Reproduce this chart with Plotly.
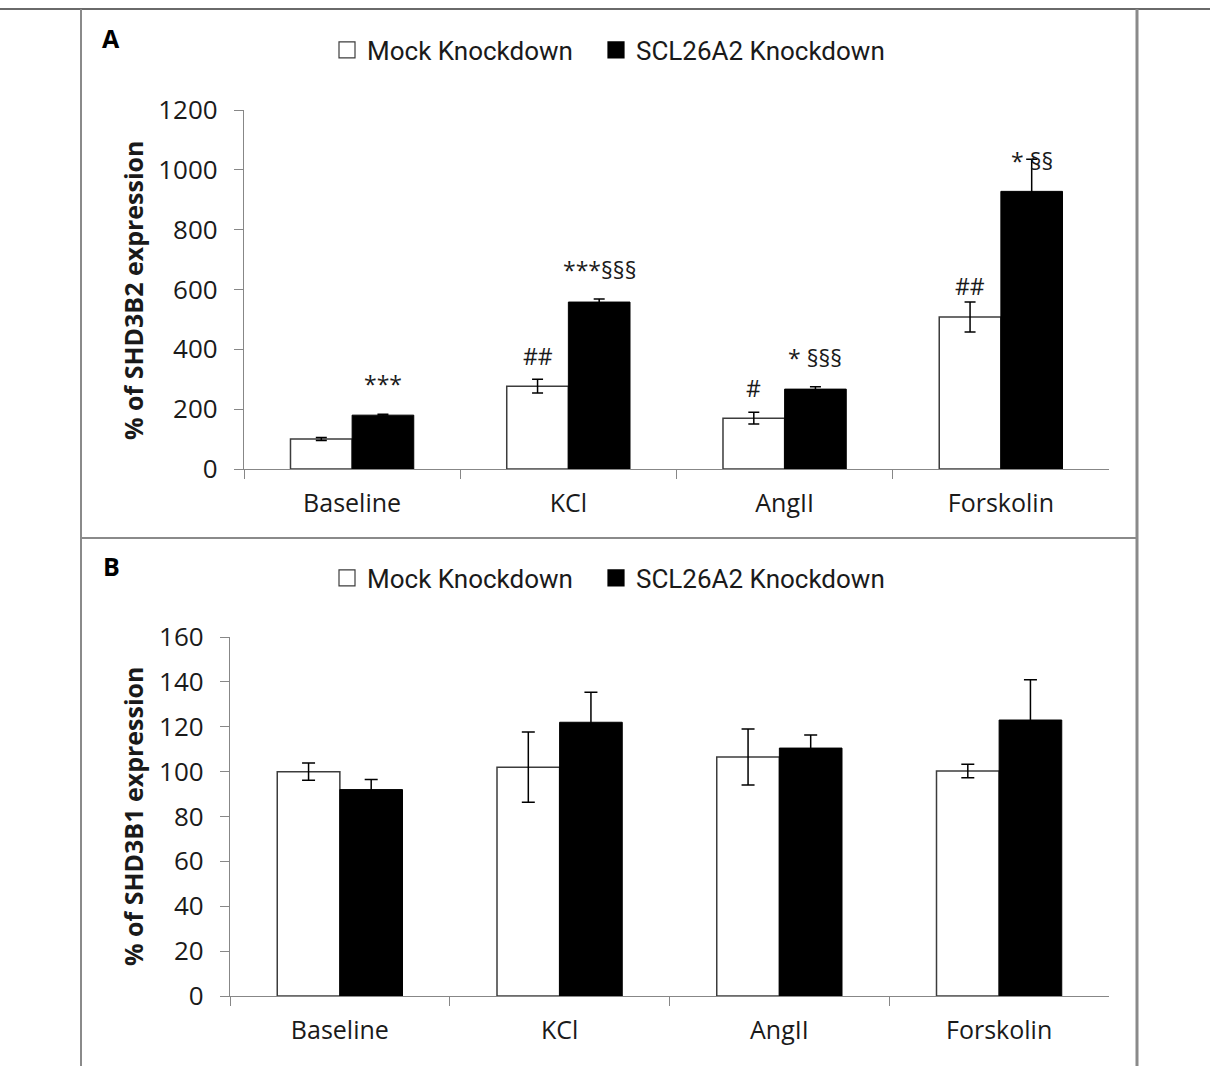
import plotly.graph_objects as go

# ---- data -------------------------------------------------------------
categories = ["Baseline", "KCl", "AngII", "Forskolin"]
series_names = ["Mock Knockdown", "SCL26A2 Knockdown"]

# Panel A: SHD3B2 expression (% of baseline mock)
a_mock = [100, 277, 170, 508]
a_mock_err = [5, 23, 20, 50]
a_kd = [180, 558, 267, 928]
a_kd_err = [3, 10, 8, 107]
a_mock_marks = ["", "##", "#", "##"]
a_kd_marks = ["***", "***§§§", "* §§§", "* §§"]

# Panel B: SHD3B1 expression (% of baseline mock)
b_mock = [100, 102, 106.5, 100.3]
b_mock_err = [3.8, 15.7, 12.5, 3]
b_kd = [92, 122, 110.5, 123]
b_kd_err = [4.5, 13.4, 5.8, 18]

y_ticks_a = [0, 200, 400, 600, 800, 1000, 1200]
y_ticks_b = [0, 20, 40, 60, 80, 100, 120, 140, 160]

# ---- styling ----------------------------------------------------------
W, H = 1210, 1066
BASE_FAMILY = "Open Sans, Noto Sans, sans-serif"
Y_TICK_FONT = dict(family=BASE_FAMILY, size=26, color="#1a1a1a")
X_TICK_FONT = dict(family=BASE_FAMILY, size=25, color="#1a1a1a")
LEGEND_FONT = dict(family="Roboto, sans-serif", size=26, color="#1a1a1a")
AXIS_GRAY = "#878787"
MOCK_STYLE = dict(color="white", line=dict(color="#3c3c3c", width=1.5))
KD_STYLE = dict(color="black", line=dict(color="black", width=1))
BARGAP = 0.43
HALF = (1 - BARGAP) / 2  # one bar width in category units


def px_x(p):
    return p / W


def px_y(p):
    return 1 - p / H


fig = go.Figure()

panels = [
    dict(mock=a_mock, mock_err=a_mock_err, kd=a_kd, kd_err=a_kd_err,
         xa="x", ya="y", legends=("legend", "legend2"), cap=5.5),
    dict(mock=b_mock, mock_err=b_mock_err, kd=b_kd, kd_err=b_kd_err,
         xa="x2", ya="y2", legends=("legend3", "legend4"), cap=6.5),
]

for p in panels:
    for name, vals, errs, style, lg in [
        (series_names[0], p["mock"], p["mock_err"], MOCK_STYLE, p["legends"][0]),
        (series_names[1], p["kd"], p["kd_err"], KD_STYLE, p["legends"][1]),
    ]:
        fig.add_trace(go.Bar(
            x=categories, y=vals, name=name, marker=style,
            error_y=dict(type="data", array=errs, color="black",
                         thickness=1.5, width=p["cap"]),
            xaxis=p["xa"], yaxis=p["ya"], showlegend=False,
        ))
        # legend key: a square swatch in the series style
        fig.add_trace(go.Scatter(
            x=[None], y=[None], mode="markers", name=name,
            marker=dict(symbol="square", size=16, color=style["color"],
                        line=dict(color=style["line"]["color"], width=1.2)),
            xaxis=p["xa"], yaxis=p["ya"], legend=lg, showlegend=True,
            hoverinfo="skip",
        ))

xaxis_common = dict(
    type="category", range=[-0.5, 3.5], tickson="boundaries",
    ticks="outside", ticklen=9, tickcolor=AXIS_GRAY, tickwidth=1.3,
    showline=True, linecolor=AXIS_GRAY, linewidth=1.3,
    showgrid=False, zeroline=False, tickfont=X_TICK_FONT,
    ticklabelstandoff=12, fixedrange=True, automargin=False,
)
yaxis_common = dict(
    ticks="outside", ticklen=9, tickcolor=AXIS_GRAY, tickwidth=1.3,
    showline=True, linecolor=AXIS_GRAY, linewidth=1.3,
    showgrid=False, zeroline=False, tickfont=Y_TICK_FONT,
    ticklabelstandoff=11, fixedrange=True, automargin=False,
)


def legend_box(left_px, center_px):
    return dict(x=px_x(left_px), y=px_y(center_px), xanchor="left", yanchor="middle",
                orientation="h", itemwidth=30, itemsizing="trace", font=LEGEND_FONT,
                bgcolor="rgba(0,0,0,0)", borderwidth=0,
                itemclick=False, itemdoubleclick=False)


fig.update_layout(
    width=W, height=H,
    margin=dict(l=0, r=0, t=0, b=0, pad=0, autoexpand=False),
    paper_bgcolor="white", plot_bgcolor="white",
    barmode="group", bargap=BARGAP, bargroupgap=0,
    xaxis=dict(domain=[px_x(244), px_x(1109)], anchor="y", **xaxis_common),
    yaxis=dict(domain=[px_y(469), px_y(110)], anchor="x", range=[0, 1200],
               tickvals=y_ticks_a, **yaxis_common),
    xaxis2=dict(domain=[px_x(230), px_x(1109)], anchor="y2", **xaxis_common),
    yaxis2=dict(domain=[px_y(996), px_y(637)], anchor="x2", range=[0, 160],
                tickvals=y_ticks_b, **yaxis_common),
    legend=legend_box(327, 50),
    legend2=legend_box(596, 50),
    legend3=legend_box(327, 578),
    legend4=legend_box(596, 578),
    showlegend=True,
)

annotations = []

# axis titles and panel letters
title_font = dict(family=BASE_FAMILY, size=25, color="#1a1a1a")
for text, yc in [("<b>% of SHD3B2 expression</b>", 290), ("<b>% of SHD3B1 expression</b>", 816)]:
    annotations.append(dict(text=text, xref="paper", yref="paper", x=px_x(133), y=px_y(yc),
                            xanchor="center", yanchor="middle", textangle=-90,
                            showarrow=False, font=title_font))
letter_font = dict(family=BASE_FAMILY, size=25, color="black")
for text, yc in [("<b>A</b>", 38), ("<b>B</b>", 566)]:
    annotations.append(dict(text=text, xref="paper", yref="paper", x=px_x(111), y=px_y(yc),
                            xanchor="center", yanchor="middle", showarrow=False, font=letter_font))

# significance marks above panel A bars
mark_font = dict(family=BASE_FAMILY, size=23, color="#1a1a1a")
mock_shift = [0, 5, 6, -2]
kd_shift = [12, 11, 11, -20]
for i in range(len(categories)):
    if a_mock_marks[i]:
        annotations.append(dict(text=a_mock_marks[i], xref="x", yref="y",
                                x=i - HALF / 2, y=a_mock[i] + a_mock_err[i],
                                xanchor="center", yanchor="bottom", yshift=mock_shift[i],
                                showarrow=False, font=mark_font))
    if a_kd_marks[i]:
        annotations.append(dict(text=a_kd_marks[i], xref="x", yref="y",
                                x=i + HALF / 2, y=a_kd[i] + a_kd_err[i],
                                xanchor="center", yanchor="bottom", yshift=kd_shift[i],
                                showarrow=False, font=mark_font))

fig.update_layout(annotations=annotations)

# panel frames
frame_gray = "#8a8a8a"
shapes = [
    dict(type="line", xref="paper", yref="paper", x0=0, x1=1, y0=px_y(9), y1=px_y(9),
         line=dict(color="#6a6a6a", width=2)),
    dict(type="line", xref="paper", yref="paper", x0=px_x(81), x1=px_x(81), y0=0, y1=px_y(9),
         line=dict(color=frame_gray, width=2)),
    dict(type="line", xref="paper", yref="paper", x0=px_x(1137), x1=px_x(1137), y0=0, y1=px_y(9),
         line=dict(color=frame_gray, width=3)),
    dict(type="line", xref="paper", yref="paper", x0=px_x(81), x1=px_x(1137), y0=px_y(538), y1=px_y(538),
         line=dict(color=frame_gray, width=2)),
]
fig.update_layout(shapes=shapes)

fig.write_html("out.html")
